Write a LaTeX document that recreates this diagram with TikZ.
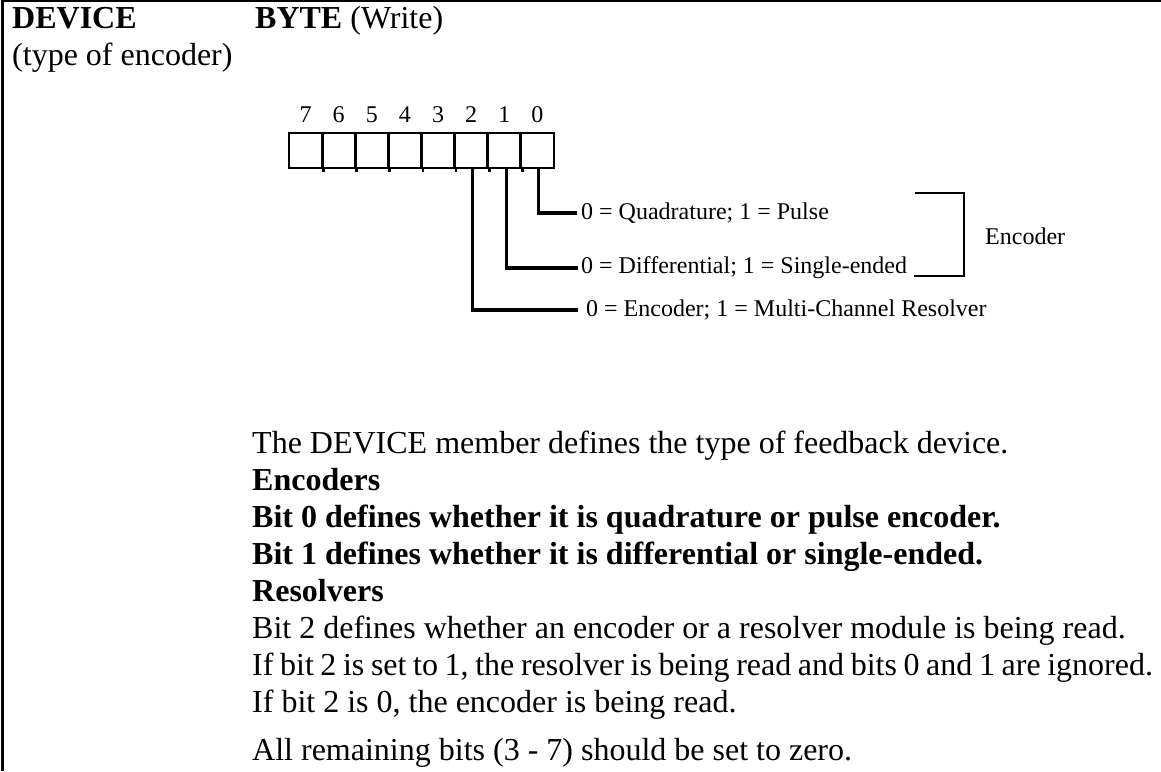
\documentclass[tikz,border=0pt]{standalone}
\usepackage{fontspec}
\setmainfont{Liberation Serif}
\begin{document}
\begin{tikzpicture}[x=1pt,y=-1pt,
  big/.style={font=\fontsize{32}{37}\selectfont, inner sep=0pt, anchor=base west},
  small/.style={font=\fontsize{24}{28}\selectfont, inner sep=0pt},
  cell/.style={draw, line width=2.8pt, minimum width=33.125pt, minimum height=35pt, inner sep=0pt},
  conn/.style={line width=3.2pt},
  frameline/.style={line width=2.5pt}]
\useasboundingbox (0,0) rectangle (1161,771);
\clip (0,0) rectangle (1161,771);
% frame
\draw[frameline] (1161,1.2) -- (2.5,1.2) -- (2.5,771);
% headings
\node[big] (dev) at (12,28) {\textbf{DEVICE}};
\node[big] (devsub) at (12,65) {(type of encoder)};
\node[big] (byte) at (255,28) {\textbf{BYTE} (Write)};
% bit cells
\foreach \i/\n in {0/7,1/6,2/5,3/4,4/3,5/2,6/1,7/0}{
  \node[cell] (b\n) at ({289+33.125*(\i+0.5)},150.5) {};
  \node[small, anchor=base] (d\n) at ({289+33.125*(\i+0.5)},122) {\n};
}
\foreach \n in {7,6,5,4,3,2,1}{
  \draw[line width=2.8pt] (b\n.south east) -- ++(0,3);
}
% labels
\node[small, anchor=west] (l0) at (581,213) {0 = Quadrature; 1 = Pulse};
\node[small, anchor=west] (l1) at (581,268) {0 = Differential; 1 = Single-ended};
\node[small, anchor=west] (l2) at (586,310) {0 = Encoder; 1 = Multi-Channel Resolver};
\node[small, anchor=west] (enc) at (985,236) {Encoder};
% connectors
\coordinate (e0) at ([xshift=-4pt]l0.west);
\coordinate (e1) at ([xshift=-3pt]l1.west);
\coordinate (e2) at ([xshift=-8pt]l2.west);
\draw[conn] ([xshift=1pt]b0.south) |- (e0);
\draw[conn] ([xshift=2pt]b1.south) |- (e1);
\draw[conn] ([xshift=1pt]b2.south) |- (e2);
% bracket
\coordinate (bt) at (915,193);
\coordinate (bb) at (914,276);
\draw[frameline] (bt) -- (964,193) -- (964,276) -- (bb);
% body text
\node[big] (t1) at (252,453) {The DEVICE member defines the type of feedback device.};
\node[big] (t2) at (252,490) {\textbf{Encoders}};
\node[big] (t3) at (252,527) {\textbf{Bit 0 defines whether it is quadrature or pulse encoder.}};
\node[big] (t4) at (252,564) {\textbf{Bit 1 defines whether it is differential or single-ended.}};
\node[big] (t5) at (252,601) {\textbf{Resolvers}};
\node[big] (t6) at (252,638) {Bit 2 defines whether an encoder or a resolver module is being read.};
\node[big] (t7) at (252,675) {\spaceskip=6.6pt plus 0pt minus 0pt If bit 2 is set to 1, the resolver is being read and bits 0 and 1 are ignored.};
\node[big] (t8) at (252,712) {If bit 2 is 0, the encoder is being read.};
\node[big] (t9) at (252,760) {All remaining bits (3 - 7) should be set to zero.};
\end{tikzpicture}
\end{document}
